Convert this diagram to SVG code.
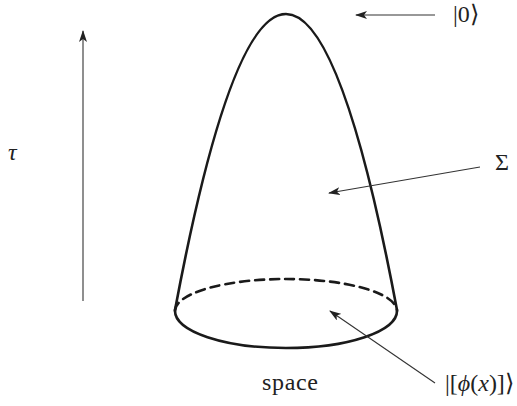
<svg xmlns="http://www.w3.org/2000/svg" width="517" height="406" viewBox="0 0 517 406">
<style>
.cone{fill:none;stroke:#1a1a1a;stroke-width:2.6;stroke-linecap:round}
.arr{fill:none;stroke:#333;stroke-width:1.1}
</style>
<defs>
<marker id="ah" viewBox="0 0 12 8" refX="11" refY="4" markerWidth="12" markerHeight="8" markerUnits="userSpaceOnUse" orient="auto">
<path d="M0,0 L12,4 L0,8 L3,4 Z" fill="#222"/>
</marker>
</defs>
<rect width="517" height="406" fill="#fff"/>
<g id="cone">
<path class="cone" d="M175,310 Q286,-282 397,310"/>
<path class="cone" d="M175,311 A111,37 0 0 0 397,311"/>
<path class="cone" d="M175,311 A111,32 0 0 1 397,311" stroke-dasharray="9,6"/>
</g>
<g id="connectors">
<line class="arr" x1="83" y1="301" x2="83" y2="31" marker-end="url(#ah)"/>
<line class="arr" x1="435" y1="15" x2="356" y2="15" marker-end="url(#ah)"/>
<line class="arr" x1="480" y1="167" x2="329" y2="193" marker-end="url(#ah)"/>
<line class="arr" x1="435" y1="383" x2="330" y2="311" marker-end="url(#ah)"/>
</g>
<g id="labels" font-family="Liberation Serif, serif" font-size="24" fill="#222">
<text font-style="italic" x="8" y="160">τ</text>
<text x="453" y="22">|0⟩</text>
<text x="495" y="170">Σ</text>
<text x="262" y="390" textLength="56">space</text>
<text x="445" y="391">|[<tspan font-style="italic">ϕ</tspan>(<tspan font-style="italic">x</tspan>)]⟩</text>
</g>
</svg>
